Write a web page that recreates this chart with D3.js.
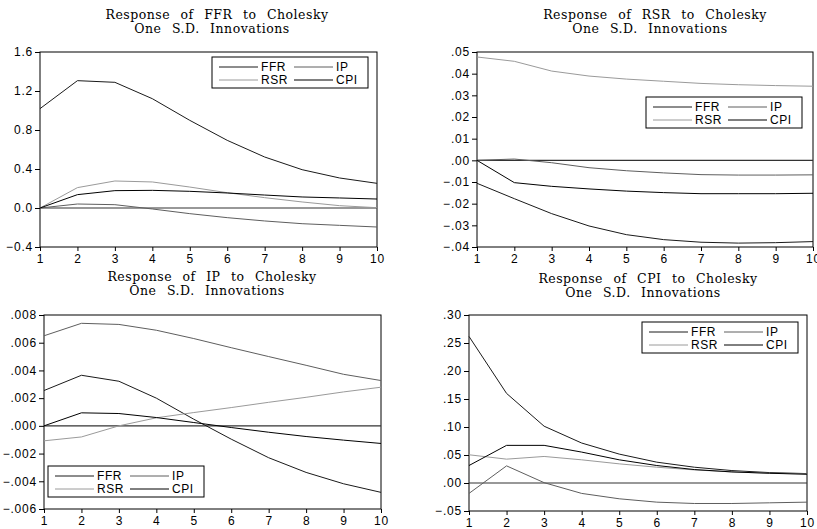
<!DOCTYPE html>
<html>
<head>
<meta charset="utf-8">
<script src="https://cdn.jsdelivr.net/npm/d3@7"></script>
<style>
  body { margin: 0; background: #fff; }
  svg { display: block; }
  .tick text { font-family: "Liberation Sans", Arial, sans-serif; font-size: 12px; letter-spacing: 0.8px; fill: #000; }
  .title { font-family: "DejaVu Serif", serif; font-size: 12.5px; letter-spacing: 0.5px; word-spacing: 6px; fill: #000; }
  .legend text { font-family: "Liberation Sans", Arial, sans-serif; font-size: 12px; letter-spacing: 0.6px; fill: #000; }
</style>
</head>
<body>
<svg id="chart" width="817" height="529"></svg>
<script>
// periods on the x axis
const periods = [1, 2, 3, 4, 5, 6, 7, 8, 9, 10];
const shocks = ['FFR', 'IP', 'RSR', 'CPI'];

// response of FFR
const ffrFFR = [1.019, 1.306, 1.289, 1.121, 0.899, 0.694, 0.523, 0.393, 0.308, 0.253];
const ffrIP  = [0, 0.041, 0.034, -0.010, -0.058, -0.099, -0.133, -0.161, -0.178, -0.195];
const ffrRSR = [0, 0.209, 0.277, 0.267, 0.215, 0.157, 0.106, 0.062, 0.024, 0.003];
const ffrCPI = [0, 0.137, 0.178, 0.181, 0.171, 0.154, 0.133, 0.113, 0.103, 0.092];

// response of RSR
const rsrFFR = [-0.0106, -0.0177, -0.0246, -0.0303, -0.0343, -0.0366, -0.0378, -0.0382, -0.0380, -0.0375];
const rsrIP  = [0, 0.0006, -0.0011, -0.0034, -0.0048, -0.0058, -0.0066, -0.0068, -0.0068, -0.0067];
const rsrRSR = [0.0477, 0.0457, 0.0412, 0.0389, 0.0375, 0.0365, 0.0355, 0.0349, 0.0345, 0.0342];
const rsrCPI = [0, -0.0103, -0.0120, -0.0132, -0.0142, -0.0149, -0.0154, -0.0154, -0.0154, -0.0152];

// response of IP
const ipFFR = [0.00255, 0.00365, 0.00322, 0.00200, 0.00048, -0.00096, -0.00230, -0.00336, -0.00418, -0.00480];
const ipIP  = [0.00650, 0.00740, 0.00732, 0.00690, 0.00630, 0.00564, 0.00500, 0.00437, 0.00372, 0.00327];
const ipRSR = [-0.00108, -0.00080, 0, 0.00058, 0.00096, 0.00132, 0.00170, 0.00206, 0.00245, 0.00279];
const ipCPI = [0, 0.00094, 0.00089, 0.00060, 0.00024, -0.00012, -0.00046, -0.00077, -0.00103, -0.00127];

// response of CPI
const cpiFFR = [0.2617, 0.1600, 0.1014, 0.0714, 0.0516, 0.0372, 0.0282, 0.0222, 0.0186, 0.0168];
const cpiIP  = [-0.0186, 0.0306, 0.0006, -0.0186, -0.0282, -0.0342, -0.0366, -0.0366, -0.0354, -0.0342];
const cpiRSR = [0.0504, 0.0426, 0.0474, 0.0414, 0.0342, 0.0282, 0.0234, 0.0198, 0.0174, 0.0162];
const cpiCPI = [0.0312, 0.0672, 0.0672, 0.0552, 0.0414, 0.0312, 0.0240, 0.0198, 0.0174, 0.0156];

// y tick values
const ffrTicks = [-0.4, 0, 0.4, 0.8, 1.2, 1.6];
const rsrTicks = [-0.04, -0.03, -0.02, -0.01, 0, 0.01, 0.02, 0.03, 0.04, 0.05];
const ipTicks  = [-0.006, -0.004, -0.002, 0, 0.002, 0.004, 0.006, 0.008];
const cpiTicks = [-0.05, 0, 0.05, 0.10, 0.15, 0.20, 0.25, 0.30];

const lineColors = { FFR: '#1a1a1a', IP: '#5e5e5e', RSR: '#9a9a9a', CPI: '#000' };

const noLead = digits => d => d3.format('.' + digits + 'f')(d).replace('0.', '.');

const panels = [
  { name: 'FFR', series: [ffrFFR, ffrIP, ffrRSR, ffrCPI], ticks: ffrTicks, fmt: d3.format('.1f'),
    box: [40, 52, 377, 247], titleX: 217, titleY: 19, legend: [212, 57] },
  { name: 'RSR', series: [rsrFFR, rsrIP, rsrRSR, rsrCPI], ticks: rsrTicks, fmt: noLead(2),
    box: [477, 52, 813, 247], titleX: 655, titleY: 19, legend: [646, 97] },
  { name: 'IP', series: [ipFFR, ipIP, ipRSR, ipCPI], ticks: ipTicks, fmt: noLead(3),
    box: [44, 315, 381, 509], titleX: 212, titleY: 281, legend: [48, 466] },
  { name: 'CPI', series: [cpiFFR, cpiIP, cpiRSR, cpiCPI], ticks: cpiTicks, fmt: noLead(2),
    box: [469, 315, 807, 511], titleX: 648, titleY: 283, legend: [642, 322] }
];

const svg = d3.select('#chart');

panels.forEach(p => {
  const [x0, y0, x1, y1] = p.box;
  const x = d3.scaleLinear().domain([1, 10]).range([x0, x1]);
  const y = d3.scaleLinear().domain(d3.extent(p.ticks)).range([y1, y0]);
  const g = svg.append('g');

  // titles
  g.append('text').attr('class', 'title')
    .attr('x', p.titleX).attr('y', p.titleY).attr('text-anchor', 'middle')
    .text(`Response of ${p.name} to Cholesky`);
  g.append('text').attr('class', 'title')
    .attr('x', p.titleX - 5).attr('y', p.titleY + 14).attr('text-anchor', 'middle')
    .text('One S.D. Innovations');

  // axes
  g.append('g').attr('transform', `translate(${x0},0)`)
    .call(d3.axisLeft(y).tickValues(p.ticks).tickFormat(p.fmt).tickSize(5).tickPadding(2).tickSizeOuter(0))
    .call(a => a.select('.domain').remove());
  g.append('g').attr('transform', `translate(0,${y1})`)
    .call(d3.axisBottom(x).tickValues(periods).tickFormat(d3.format('d')).tickSize(4).tickPadding(3).tickSizeOuter(0))
    .call(a => a.select('.domain').remove());

  // frame
  g.append('rect').attr('x', x0).attr('y', y0).attr('width', x1 - x0).attr('height', y1 - y0)
    .attr('fill', 'none').attr('stroke', '#000').attr('stroke-width', 1);

  // zero line
  g.append('line').attr('x1', x0).attr('x2', x1).attr('y1', y(0)).attr('y2', y(0))
    .attr('stroke', '#333').attr('stroke-width', 1.2);

  // response lines
  const line = d3.line().x((d, i) => x(periods[i])).y(d => y(d));
  p.series.forEach((s, k) => {
    g.append('path').datum(s).attr('d', line)
      .attr('fill', 'none').attr('stroke', lineColors[shocks[k]]).attr('stroke-width', 1);
  });

  // legend
  const [lx, ly] = p.legend;
  const lg = g.append('g').attr('class', 'legend').attr('transform', `translate(${lx},${ly})`);
  lg.append('rect').attr('width', 156).attr('height', 31)
    .attr('fill', '#fff').attr('stroke', '#000').attr('stroke-width', 1);
  const order = ['FFR', 'IP', 'RSR', 'CPI'];
  order.forEach((n, i) => {
    const col = i % 2, row = Math.floor(i / 2);
    const ox = col === 0 ? 7 : 82;
    const oy = row === 0 ? 10 : 23;
    lg.append('line').attr('x1', ox).attr('x2', ox + 39).attr('y1', oy).attr('y2', oy)
      .attr('stroke', lineColors[n]).attr('stroke-width', 1);
    lg.append('text').attr('x', ox + 42).attr('y', oy + 4).text(n);
  });
});
</script>
</body>
</html>
